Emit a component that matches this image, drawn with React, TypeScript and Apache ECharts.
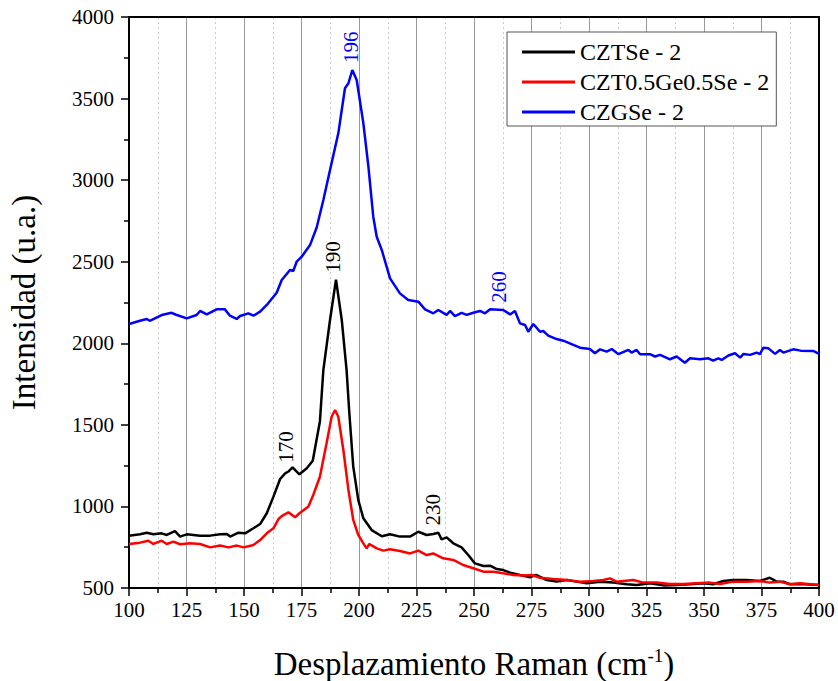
import React, { useEffect, useRef } from "react";
import * as echarts from "echarts";

// Raman spectra: [Raman shift (cm-1), intensity (a.u.)]
const czTSePoints: number[][] = [
  [100, 820], [104.8, 829], [107.7, 839], [110.6, 829], [114.2, 835], [116.4, 825], [120, 849], [122.2, 815],
  [125.1, 829], [130.9, 821], [135.3, 821], [139.6, 829], [142.5, 831], [144, 815], [147.6, 839], [150.5, 835],
  [154.1, 866], [157, 892], [159.9, 958], [162.8, 1060], [165.7, 1168], [167.9, 1203], [169.3, 1214], [171.1, 1240],
  [174.1, 1197], [177.3, 1234], [179.9, 1280], [183, 1520], [184.5, 1836], [187.4, 2143], [190, 2390], [192.5, 2143],
  [194.6, 1836], [195.8, 1571], [197.5, 1244], [199.7, 1039], [201.9, 927], [205.5, 855], [209.9, 817], [213.5, 829],
  [217.8, 815], [222.2, 815], [225.8, 845], [229.4, 825], [232.3, 831], [234.5, 839], [235.9, 798], [238.1, 810],
  [241, 774], [244.6, 749], [247.5, 702], [250.4, 651], [254.1, 635], [257, 637], [259.9, 616], [262.7, 610],
  [265.7, 594], [270, 580], [274.4, 566], [277, 580], [281.6, 549], [286, 539], [290.3, 549], [294.6, 539],
  [299, 529], [304.8, 539], [310.6, 533], [316.4, 523], [320.7, 518], [326.5, 529], [332.3, 516], [338.1, 518],
  [343.9, 523], [349.7, 529], [354, 523], [358.4, 543], [362.7, 549], [368.5, 549], [374.3, 543], [378.6, 563],
  [381.6, 539], [384.5, 539], [387.4, 523], [391.7, 525], [400, 518],
];

const czTGeSePoints: number[][] = [
  [100, 770], [104.8, 778], [108.4, 790], [110.6, 770], [114.2, 790], [116.4, 770], [119.3, 784], [122.2, 768],
  [126.6, 774], [130.9, 770], [135.3, 749], [139.6, 760], [143.3, 749], [146.9, 760], [149.8, 749], [154.1, 764],
  [157, 794], [159.9, 835], [162.8, 866], [165, 923], [166.4, 941], [169.3, 964], [172.2, 933], [174.1, 958],
  [178, 999], [180.1, 1070], [183, 1182], [185.9, 1387], [188.1, 1550], [189.6, 1591], [191, 1550], [193.2, 1346],
  [195.4, 1101], [197.5, 917], [199.7, 825], [201.9, 774], [203.3, 743], [204.5, 770], [207.7, 743], [210.6, 729],
  [213.5, 737], [217.8, 727], [222.2, 712], [225.8, 729], [229.4, 702], [232.3, 712], [236.6, 682], [241, 672],
  [245.3, 641], [249.7, 621], [254.1, 600], [258.4, 600], [262.7, 590], [267.1, 580], [271.5, 576], [275.1, 580],
  [278.7, 563], [284.5, 555], [290.3, 549], [296.1, 539], [301.9, 543], [306.2, 549], [309.1, 559], [312, 539],
  [319.3, 549], [323.6, 533], [329.4, 533], [335.2, 525], [341, 525], [346.8, 529], [352.6, 533], [357, 525],
  [362.7, 539], [368.5, 539], [374.3, 543], [378.6, 533], [382.9, 539], [387.4, 523], [391.7, 529], [400, 518],
];

const czGSePoints: number[][] = [
  [100, 2118], [104.8, 2138], [107.7, 2149], [109, 2138], [114.2, 2173], [118.5, 2187], [120.5, 2175], [125.1, 2153],
  [129.4, 2173], [130.9, 2198], [133.8, 2177], [138.1, 2208], [141.7, 2208], [143.9, 2169], [146.8, 2149], [148.3, 2167],
  [151.9, 2183], [154.1, 2169], [157, 2194], [159.9, 2235], [164.2, 2310], [166.4, 2388], [170, 2449], [171.4, 2443],
  [172.9, 2500], [175.1, 2531], [178.7, 2602], [181.6, 2710], [184.5, 2878], [187.4, 3062], [191, 3287], [193.9, 3563],
  [195.4, 3594], [197.1, 3675], [199, 3614], [201.9, 3348], [204.1, 3082], [206.2, 2776], [207.7, 2653], [209.9, 2572],
  [213.5, 2398], [217.8, 2306], [221.4, 2265], [225.8, 2255], [228.7, 2208], [232.3, 2184], [234.5, 2204], [238.1, 2174],
  [239.6, 2198], [241.7, 2167], [244.6, 2187], [246.8, 2174], [249.7, 2187], [252.6, 2198], [254.8, 2184], [257, 2208],
  [262.7, 2204], [265.7, 2177], [267.8, 2198], [270, 2122], [272.2, 2112], [273.6, 2071], [275.8, 2118], [278.7, 2071],
  [280.1, 2075], [282.3, 2047], [285.9, 2026], [288.8, 2016], [293.2, 1990], [296.1, 1973], [300.4, 1965], [302.6, 1939],
  [304.8, 1963], [307.7, 1949], [309.9, 1965], [312.8, 1933], [317.1, 1959], [318.5, 1943], [320.7, 1959], [322.2, 1933],
  [326.5, 1933], [328.7, 1919], [330.9, 1929], [335.2, 1902], [338.1, 1919], [341.7, 1881], [343.9, 1908], [348.3, 1902],
  [351.9, 1908], [354, 1894], [356.2, 1908], [357.7, 1898], [360.6, 1925], [363.5, 1939], [365.7, 1912], [367.2, 1935],
  [370, 1929], [372.9, 1943], [374.3, 1933], [375.8, 1973], [378, 1969], [380.9, 1935], [383, 1959], [384.5, 1943],
  [388.8, 1963], [392, 1955], [397.5, 1953], [400, 1935],
];

const seriesNames = ["CZTSe - 2", "CZT0.5Ge0.5Se - 2", "CZGSe - 2"];
const seriesColors = ["#000000", "#ff0000", "#0000ff"];

// Peak annotations: [label, x, y]
const blackPeaks: [string, number, number][] = [
  ["170", 168.4, 1225],
  ["190", 188.8, 2390],
  ["230", 232.2, 840],
];
const bluePeaks: [string, number, number][] = [
  ["196", 196.5, 3675],
  ["260", 260.9, 2205],
];

const SERIF = "Liberation Serif";

function peakMarks(peaks: [string, number, number][], color: string, gap: number) {
  return {
    symbol: "circle",
    symbolSize: 0,
    silent: true,
    label: {
      show: true,
      position: "top",
      distance: gap,
      rotate: 90,
      align: "left",
      verticalAlign: "middle",
      color,
      fontFamily: SERIF,
      fontSize: 21,
      formatter: (p: any) => p.name,
    },
    data: peaks.map(([name, x, y]) => ({ name, coord: [x, y] })),
  };
}

export default function App() {
  const ref = useRef<HTMLDivElement>(null);

  useEffect(() => {
    if (!ref.current) return;
    const chart = echarts.init(ref.current, undefined, { renderer: "svg" });

    const lineSeries = (name: string, color: string, data: number[][], marks: any) => ({
      name,
      type: "line",
      data,
      showSymbol: false,
      symbol: "none",
      lineStyle: { color, width: 2.5 },
      itemStyle: { color },
      markPoint: marks,
      z: 3,
    });

    // tick labels go through rich text so they keep the serif face
    const tickLabel = {
      fontFamily: SERIF,
      fontSize: 21,
      color: "#000",
      formatter: (v: number) => `{n|${v}}`,
      rich: { n: { fontFamily: SERIF, fontSize: 21, color: "#000" } },
    };

    chart.setOption({
      animation: false,
      backgroundColor: "#ffffff",
      textStyle: { fontFamily: SERIF },
      grid: { left: 129, right: 19, top: 17, bottom: 93, containLabel: false, outerBoundsMode: "none" },
      legend: {
        orient: "vertical",
        left: 507,
        top: 32,
        data: seriesNames,
        icon: "rect",
        itemWidth: 53,
        itemHeight: 3,
        itemGap: 6,
        padding: [8, 7, 2, 15],
        backgroundColor: "#ffffff",
        borderColor: "#555555",
        borderWidth: 1,
        borderRadius: 0,
        textStyle: { fontFamily: SERIF, fontSize: 24, lineHeight: 24, color: "#000" },
      },
      xAxis: [
        {
          type: "value",
          min: 100,
          max: 400,
          interval: 25,
          name: "{t|Desplazamiento Raman (cm}{s|-1}{t|)}",
          nameLocation: "middle",
          nameGap: 58,
          nameTextStyle: {
            rich: {
              t: { fontFamily: SERIF, fontSize: 33, color: "#000" },
              s: { fontFamily: SERIF, fontSize: 19, color: "#000", padding: [0, 0, 16, 0] },
            },
          },
          axisLine: { show: true, onZero: false, lineStyle: { color: "#000", width: 2 } },
          axisTick: { show: true, inside: false, length: 8, lineStyle: { color: "#000", width: 1.5 } },
          minorTick: { show: true, splitNumber: 2, length: 5, lineStyle: { color: "#000", width: 1.5 } },
          axisLabel: { ...tickLabel, margin: 11 },
          splitLine: { show: true, lineStyle: { color: "#9a9a9a", width: 1 } },
          minorSplitLine: { show: true, lineStyle: { color: "#cccccc", width: 1, type: [2, 3] } },
        },
        {
          type: "value",
          position: "top",
          min: 100,
          max: 400,
          interval: 25,
          axisLine: { show: true, onZero: false, lineStyle: { color: "#000", width: 2 } },
          axisTick: { show: false },
          axisLabel: { show: false },
          splitLine: { show: false },
        },
      ],
      yAxis: [
        {
          type: "value",
          min: 500,
          max: 4000,
          interval: 500,
          name: "Intensidad (u.a.)",
          nameLocation: "middle",
          nameGap: 89,
          nameTextStyle: { fontFamily: SERIF, fontSize: 33, color: "#000" },
          axisLine: { show: true, onZero: false, lineStyle: { color: "#000", width: 2 } },
          axisTick: { show: true, inside: false, length: 8, lineStyle: { color: "#000", width: 1.5 } },
          minorTick: { show: true, splitNumber: 2, length: 5, lineStyle: { color: "#000", width: 1.5 } },
          axisLabel: { ...tickLabel, margin: 15 },
          splitLine: { show: false },
        },
        {
          type: "value",
          position: "right",
          min: 500,
          max: 4000,
          interval: 500,
          axisLine: { show: true, onZero: false, lineStyle: { color: "#000", width: 2 } },
          axisTick: { show: false },
          axisLabel: { show: false },
          splitLine: { show: false },
        },
      ],
      series: [
        lineSeries(seriesNames[0], seriesColors[0], czTSePoints, peakMarks(blackPeaks, "#000000", 7)),
        lineSeries(seriesNames[1], seriesColors[1], czTGeSePoints, undefined),
        lineSeries(seriesNames[2], seriesColors[2], czGSePoints, peakMarks(bluePeaks, "#0000ff", 7)),
      ],
    });

    return () => chart.dispose();
  }, []);

  return (
    <div
      ref={ref}
      style={{ position: "absolute", left: 0, top: 0, width: 838, height: 681, background: "#fff" }}
    />
  );
}
